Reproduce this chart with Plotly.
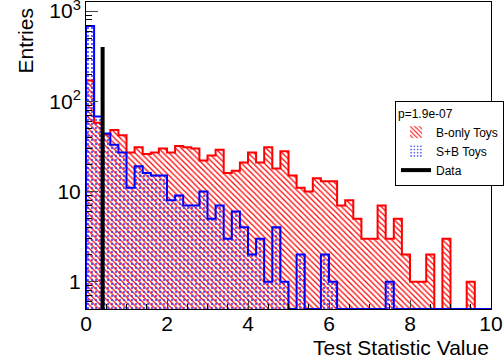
import plotly.graph_objects as go

# ---- data ----
bin_width = 0.2
n_bins = 50
b_only_counts = [170, 58, 43, 48, 42, 27, 31, 26, 27, 30,
                 27, 32, 31, 30, 22, 25, 29, 16, 17, 21,
                 27, 21, 31, 18, 28, 15, 11, 10, 14, 13,
                 13, 7, 8, 5, 3, 3, 7, 3, 5, 2,
                 1, 1, 2, 0, 3, 0, 0, 1, 0, 0]
sb_counts = [684, 68, 44, 33, 27, 11, 19, 16, 15, 15,
             8, 9, 7, 7, 10, 5, 7, 3, 6, 4,
             2, 3, 1, 4, 1, 0, 2, 0, 0, 2,
             1, 0, 0, 0, 0, 0, 0, 1, 0, 0,
             0, 0, 0, 0, 0, 0, 0, 0, 0, 0]
data_value = 0.41
data_height = 400
p_value_label = "p=1.9e-07"
x_title = "Test Statistic Value"
y_title = "Entries"
x_ticks = [0, 2, 4, 6, 8, 10]
y_ticks = [1, 10, 100, 1000]
y_ticktext = ["1", "10", "10<sup>2</sup>", "10<sup>3</sup>"]

Y_LO, Y_HI = -0.303, 3.101
FONT = "Liberation Sans, Arial, sans-serif"
RED = "#ff0000"
BLUE = "#0000ff"

centers = [bin_width * (i + 0.5) for i in range(n_bins)]
edges = [bin_width * i for i in range(n_bins + 1)]
floor = 10 ** Y_LO


def step(counts):
    ys = [max(c, floor) for c in counts]
    xs = [0.0] + edges + [edges[-1]]
    ys = [floor] + ys + [ys[-1], floor]
    return xs, ys


fig = go.Figure()

# hatched fills
fig.add_trace(go.Bar(
    x=centers, y=[c if c > 0 else None for c in b_only_counts], width=bin_width,
    name="B-only Toys", legendgroup="b",
    marker=dict(color=RED, line=dict(width=0),
                pattern=dict(shape="\\", size=4, solidity=0.3, fgcolor=RED, fillmode="replace")),
))
fig.add_trace(go.Bar(
    x=centers, y=[c if c > 0 else None for c in sb_counts], width=bin_width,
    name="S+B Toys", legendgroup="sb",
    marker=dict(color=BLUE, line=dict(width=0),
                pattern=dict(shape=".", size=4, solidity=0.2, fgcolor="#3333ff", fillmode="replace")),
))

# outlines
xs, ys = step(b_only_counts)
fig.add_trace(go.Scatter(x=xs, y=ys, mode="lines", line=dict(color=RED, width=2, shape="hv"),
                         showlegend=False, legendgroup="b", hoverinfo="skip"))
xs, ys = step(sb_counts)
fig.add_trace(go.Scatter(x=xs, y=ys, mode="lines", line=dict(color=BLUE, width=2, shape="hv"),
                         showlegend=False, legendgroup="sb", hoverinfo="skip"))

# data line
fig.add_trace(go.Scatter(x=[data_value, data_value], y=[floor, data_height], mode="lines",
                         line=dict(color="black", width=4), name="Data"))

minor_y = [m * 10 ** k for k in range(-1, 4) for m in range(2, 10)]

fig.update_layout(
    width=504, height=363,
    margin=dict(l=86, r=13, t=2, b=54, autoexpand=False),
    paper_bgcolor="white", plot_bgcolor="white",
    barmode="overlay", bargap=0,
    font=dict(family=FONT, size=21, color="black"),
    showlegend=True,
    legend=dict(
        title=dict(text=p_value_label, font=dict(size=12)),
        x=0.763, y=0.6775, xanchor="left", yanchor="top",
        bgcolor="white", bordercolor="black", borderwidth=1,
        font=dict(size=12), itemwidth=30, tracegroupgap=0,
        traceorder="normal",
    ),
    xaxis=dict(
        range=[0, 10], tickvals=x_ticks, ticks="inside", ticklen=9,
        tickfont=dict(size=21), showgrid=False, zeroline=False, automargin=False,
        showline=True, linecolor="black", linewidth=1, mirror=True,
        ticklabeloverflow="allow", ticklabelstandoff=-4,
        minor=dict(ticks="inside", ticklen=5, dtick=0.5, tick0=0, tickcolor="black", showgrid=False),
    ),
    yaxis=dict(
        type="log", range=[Y_LO, Y_HI], tickvals=y_ticks, ticktext=y_ticktext,
        ticks="inside", ticklen=12, tickfont=dict(size=21), automargin=False,
        showgrid=False, zeroline=False, ticklabeloverflow="allow",
        showline=True, linecolor="black", linewidth=1, mirror=True,
        minor=dict(ticks="inside", ticklen=6, tickvals=minor_y, tickcolor="black", showgrid=False),
    ),
    annotations=[
        dict(text=x_title, xref="paper", yref="paper", x=1.0, y=-0.127,
             xanchor="right", yanchor="middle", showarrow=False, font=dict(size=21)),
        dict(text=y_title, xref="paper", yref="paper", x=-0.1506, y=0.984,
             xanchor="center", yanchor="top", textangle=-90, showarrow=False, font=dict(size=21)),
    ],
)

fig.write_html("out.html")
